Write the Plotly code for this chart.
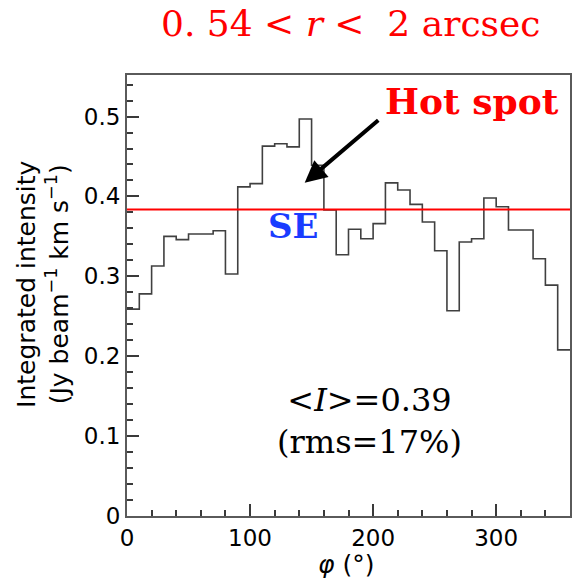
import plotly.graph_objects as go

# Data: integrated intensity per 10-degree azimuthal bin
phi_left = [0, 10, 20, 30, 40, 50, 60, 70, 80, 90, 100, 110, 120, 130, 140, 150, 160, 170,
            180, 190, 200, 210, 220, 230, 240, 250, 260, 270, 280, 290, 300, 310, 320, 330, 340, 350]
intensity = [0.259, 0.278, 0.313, 0.350, 0.346, 0.353, 0.353, 0.357, 0.303, 0.412, 0.416, 0.463,
             0.466, 0.462, 0.497, 0.439, 0.383, 0.327, 0.359, 0.347, 0.366, 0.417, 0.408, 0.390,
             0.368, 0.332, 0.257, 0.343, 0.347, 0.398, 0.387, 0.358, 0.358, 0.322, 0.289, 0.208]
phi_max = 360
mean_level = 0.3835

x_steps = phi_left + [phi_max]
y_steps = intensity + [intensity[-1]]

fig = go.Figure()
fig.add_trace(go.Scatter(
    x=x_steps, y=y_steps, mode="lines", line=dict(shape="hv", color="#404040", width=1.6),
    showlegend=False, hoverinfo="skip"))
fig.add_trace(go.Scatter(
    x=[0, phi_max], y=[mean_level, mean_level], mode="lines",
    line=dict(color="#ff0000", width=2), showlegend=False, hoverinfo="skip"))

axis_common = dict(
    showgrid=False, zeroline=False, showline=True, linecolor="#5a5a5a", linewidth=2,
    mirror=True, ticks="inside", tickcolor="#3a3a3a", tickwidth=1.5,
    tickfont=dict(family="DejaVu Sans", size=23, color="black"),
)

fig.update_xaxes(range=[0, 360], dtick=100, tick0=0, ticklen=12,
                 minor=dict(dtick=20, ticks="inside", ticklen=6, tickcolor="#3a3a3a", tickwidth=1.5),
                 **axis_common)
fig.update_yaxes(range=[0, 0.552], dtick=0.1, tick0=0, ticklen=12, tickformat="~g",
                 minor=dict(dtick=0.02, ticks="inside", ticklen=6, tickcolor="#3a3a3a", tickwidth=1.5),
                 **axis_common)

annotations = [
    dict(text="0. 54 &lt; <i>r</i> &lt;&nbsp; 2 arcsec", xref="x", yref="paper", x=182, y=1.116,
         showarrow=False, font=dict(family="DejaVu Serif", size=36, color="#ff0000"),
         xanchor="center", yanchor="middle"),
    dict(text="<b>Hot spot</b>", xref="x", yref="y", x=280, y=0.519, showarrow=False,
         font=dict(family="DejaVu Serif", size=36, color="#ff0000"), xanchor="center", yanchor="middle"),
    dict(text="<b>SE</b>", xref="x", yref="y", x=135, y=0.363, showarrow=False,
         font=dict(family="DejaVu Serif", size=34, color="#1a3cff"), xanchor="center", yanchor="middle"),
    dict(text="&lt;<i>I</i>&gt;=0.39<br>(rms=17%)", xref="x", yref="y", x=197, y=0.1185, showarrow=False,
         font=dict(family="DejaVu Serif", size=32, color="black"), xanchor="center", yanchor="middle",
         align="center"),
    dict(text="", xref="x", yref="y", x=144.4, y=0.417, axref="x", ayref="y", ax=205.4, ay=0.497,
         showarrow=True, arrowhead=2, arrowsize=1.1, arrowwidth=4, arrowcolor="black"),
    dict(text="Integrated intensity<br>(Jy beam<sup>−1</sup> km s<sup>−1</sup>)", xref="paper", yref="paper",
         x=0, xshift=-84, y=0.524, textangle=-90, showarrow=False,
         font=dict(family="DejaVu Sans", size=25, color="black"), xanchor="center", yanchor="middle"),
    dict(text="<i>φ</i> (°)", xref="x", yref="paper", x=178, y=0, yshift=-48, showarrow=False,
         font=dict(family="DejaVu Sans", size=25, color="black"), xanchor="center", yanchor="middle"),
]

fig.update_layout(
    width=577, height=586,
    margin=dict(l=127, r=7, t=75, b=70, autoexpand=False),
    paper_bgcolor="white", plot_bgcolor="white",
    annotations=annotations,
)

fig.write_html("out.html")
